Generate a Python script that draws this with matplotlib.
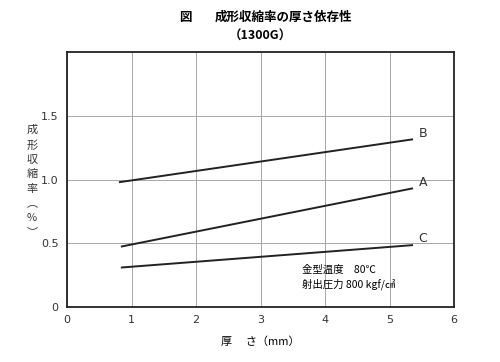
import matplotlib.pyplot as plt

plt.rcParams['font.family'] = ['Noto Sans CJK JP', 'DejaVu Sans']

# datos
espesor = [0.85, 5.35]
serie_a = [0.475, 0.93]
serie_b = [0.98, 1.315]
serie_c = [0.31, 0.485]
espesor_b = [0.82, 5.35]
nombres = ['A', 'B', 'C']
xticks = [0, 1, 2, 3, 4, 5, 6]
yticks = [0, 0.5, 1.0, 1.5]
ytick_labels = ['0', '0.5', '1.0', '1.5']

fig = plt.figure(figsize=(5, 3.62), dpi=100)
ax = fig.add_axes([0.134, 0.152, 0.774, 0.704])

ax.plot(espesor, serie_a, color='#222222', lw=1.4)
ax.plot(espesor_b, serie_b, color='#222222', lw=1.4)
ax.plot(espesor, serie_c, color='#222222', lw=1.4)

for nombre, serie in zip(nombres, [serie_a, serie_b, serie_c]):
    ax.text(espesor[1] + 0.1, serie[1] + 0.05, nombre, fontsize=9,
            family=['DejaVu Sans'], va='center', ha='left', color='#333333')

ax.set_xlim(0, 6)
ax.set_ylim(0, 2.0)
ax.set_xticks(xticks)
ax.set_yticks(yticks)
ax.set_xticklabels([str(t) for t in xticks], family=['Liberation Sans Narrow', 'DejaVu Sans'], fontsize=8)
ax.set_yticklabels(ytick_labels, family=['Liberation Sans Narrow', 'DejaVu Sans'], fontsize=8)
ax.tick_params(length=0, pad=6, colors='#333333')
ax.grid(True, color='#999999', lw=0.6)
for s in ax.spines.values():
    s.set_linewidth(1.3)
    s.set_color('#222222')

ax.text(3.65, 0.27, '金型温度　80℃', fontsize=7.5)
ax.text(3.65, 0.15, '射出圧力 800 kgf/㎠', fontsize=7.5)

fig.text(0.064, 0.5, '成\n形\n収\n縮\n率\n︵\n%\n︶', fontsize=8, ha='center', va='center',
         linespacing=1.55, color='#333333')
ax.set_xlabel('厚　 さ（mm）', fontsize=8, labelpad=8)

fig.text(0.37, 0.953, '図', fontsize=9, ha='center', va='center', weight='bold')
fig.text(0.567, 0.953, '成形収縮率の厚さ依存性', fontsize=9, ha='center', va='center', weight='bold')
fig.text(0.52, 0.9, '（1300G）', fontsize=9, ha='center', va='center', weight='bold')

fig.savefig('out.png', dpi=100)
